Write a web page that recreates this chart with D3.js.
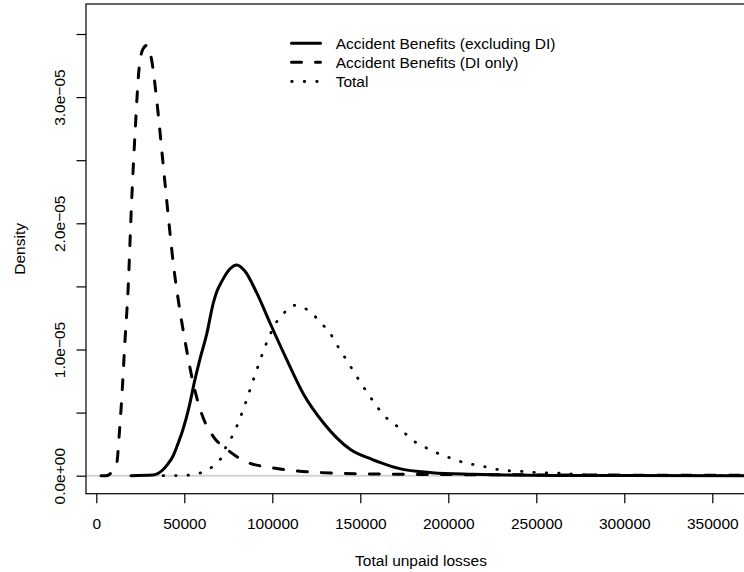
<!DOCTYPE html>
<html>
<head>
<meta charset="utf-8">
<script src="https://cdn.jsdelivr.net/npm/d3@7"></script>
<style>
  html, body { margin: 0; padding: 0; background: #fff; }
  svg { display: block; font-family: "Liberation Sans", Arial, Helvetica, sans-serif; }
</style>
</head>
<body>
<svg id="chart" width="744" height="572"></svg>
<script>
// ---- Data ----
const seriesNames = ["Accident Benefits (excluding DI)", "Accident Benefits (DI only)", "Total"];

const exclDI_x = [19700, 32000, 37700, 40500, 43400, 46300, 49100, 52800, 55700, 59000, 62700, 66500, 68500, 71300, 76000, 79800, 84500, 91100, 98700, 108200, 117600, 129000, 144200, 156600, 162300, 171800, 190700, 213500, 232200, 260000, 300000, 380000];
const exclDI_y = [0, 5e-8, 4.5e-7, 9e-7, 1.5e-6, 2.5e-6, 3.6e-6, 5.5e-6, 7.4e-6, 9.3e-6, 1.12e-5, 1.37e-5, 1.46e-5, 1.54e-5, 1.64e-5, 1.67e-5, 1.62e-5, 1.45e-5, 1.21e-5, 9.2e-6, 6.5e-6, 4.2e-6, 2.1e-6, 1.3e-6, 1.0e-6, 5.8e-7, 2.4e-7, 1.1e-7, 5e-8, 2e-8, 1e-8, 0];

const onlyDI_x = [2700, 5500, 11600, 13100, 14400, 16300, 18000, 20100, 22000, 24400, 26500, 28600, 31500, 34300, 38100, 41900, 43750, 46600, 50400, 55100, 59900, 66500, 74100, 85100, 98300, 111800, 127100, 153800, 200000, 260000, 320000, 380000];
const onlyDI_y = [0, 0, 1.0e-6, 3.4e-6, 6.0e-6, 1.07e-5, 1.46e-5, 2.18e-5, 2.71e-5, 3.24e-5, 3.38e-5, 3.41e-5, 3.29e-5, 2.98e-5, 2.45e-5, 1.92e-5, 1.68e-5, 1.39e-5, 1.07e-5, 7.3e-6, 4.9e-6, 3.1e-6, 2.1e-6, 1.1e-6, 6.7e-7, 4.0e-7, 2.5e-7, 1.4e-7, 9e-8, 6e-8, 4e-8, 3e-8];

const total_x = [38000, 54400, 60800, 66700, 71300, 73700, 77500, 82600, 87300, 91700, 96400, 102500, 106700, 111900, 118000, 123700, 128400, 132800, 136600, 143800, 151000, 158900, 163200, 168400, 173700, 178800, 184800, 190700, 197000, 203600, 210100, 216900, 223300, 230100, 237200, 244200, 251000, 257800, 264600, 272000, 286000, 320000, 380000];
const total_y = [0, 5e-8, 3.2e-7, 7.9e-7, 1.5e-6, 2.3e-6, 3.2e-6, 4.9e-6, 6.8e-6, 8.6e-6, 1.04e-5, 1.22e-5, 1.29e-5, 1.35e-5, 1.33e-5, 1.27e-5, 1.20e-5, 1.13e-5, 1.04e-5, 8.8e-6, 7.2e-6, 5.6e-6, 4.8e-6, 4.2e-6, 3.6e-6, 2.9e-6, 2.4e-6, 2.0e-6, 1.6e-6, 1.3e-6, 9.8e-7, 8.5e-7, 6.3e-7, 4.5e-7, 3.7e-7, 3.2e-7, 2.4e-7, 2.1e-7, 1.9e-7, 1.1e-7, 5e-8, 1e-8, 0];

const xTicks = [0, 50000, 100000, 150000, 200000, 250000, 300000, 350000];
const xTickLabels = ["0", "50000", "100000", "150000", "200000", "250000", "300000", "350000"];
const yTicks = [0, 5e-6, 1e-5, 1.5e-5, 2e-5, 2.5e-5, 3e-5, 3.5e-5];
const yTickLabels = ["0.0e+00", "", "1.0e\u221205", "", "2.0e\u221205", "", "3.0e\u221205", ""];

const xTitle = "Total unpaid losses";
const yTitle = "Density";

// ---- Layout ----
const plot = { left: 86, right: 756, top: 4, bottom: 493.7 };
const FS = 15.5;

const svg = d3.select("#chart");

const x = d3.scaleLinear().domain([-5852, 374830]).range([plot.left, plot.right]);
const y = d3.scaleLinear().domain([-1.426e-6, 3.7377e-5]).range([plot.bottom, plot.top]);

svg.append("defs").append("clipPath").attr("id", "clip")
  .append("rect").attr("x", plot.left).attr("y", plot.top)
  .attr("width", plot.right - plot.left).attr("height", plot.bottom - plot.top);

// zero line
svg.append("line")
  .attr("x1", plot.left).attr("x2", plot.right)
  .attr("y1", y(0)).attr("y2", y(0))
  .attr("stroke", "#d3d3d3").attr("stroke-width", 2);

const line = d3.line().x(d => x(d[0])).y(d => y(d[1])).curve(d3.curveMonotoneX);

const styles = [
  { dash: null, cap: "round" },
  { dash: "10 14", cap: "round" },
  { dash: "0.5 11.9", cap: "round" }
];
const series = [
  d3.zip(exclDI_x, exclDI_y),
  d3.zip(onlyDI_x, onlyDI_y),
  d3.zip(total_x, total_y)
];

const gCurves = svg.append("g").attr("clip-path", "url(#clip)");
series.forEach((s, i) => {
  gCurves.append("path")
    .datum(s)
    .attr("d", line)
    .attr("fill", "none")
    .attr("stroke", "#000")
    .attr("stroke-width", i === 2 ? 2.8 : 3)
    .attr("stroke-linecap", styles[i].cap)
    .attr("stroke-linejoin", "round")
    .attr("stroke-dasharray", styles[i].dash);
});

// box
svg.append("rect")
  .attr("x", plot.left).attr("y", plot.top)
  .attr("width", plot.right - plot.left).attr("height", plot.bottom - plot.top)
  .attr("fill", "none").attr("stroke", "#000").attr("stroke-width", 1.2);

// x axis
const xAxis = d3.axisBottom(x).tickValues(xTicks)
  .tickFormat((d, i) => xTickLabels[i]).tickSize(9.5).tickPadding(14.5);
const gx = svg.append("g").attr("transform", `translate(0,${plot.bottom})`).call(xAxis);
gx.select(".domain").remove();
gx.selectAll(".tick line").attr("stroke", "#000").attr("stroke-width", 1.2);
gx.selectAll(".tick text").attr("font-size", FS).attr("fill", "#000")
  .attr("font-family", "Liberation Sans, Arial, sans-serif");

// y axis
const yAxis = d3.axisLeft(y).tickValues(yTicks)
  .tickFormat((d, i) => yTickLabels[i]).tickSize(9.5);
const gy = svg.append("g").attr("transform", `translate(${plot.left},0)`).call(yAxis);
gy.select(".domain").remove();
gy.selectAll(".tick line").attr("stroke", "#000").attr("stroke-width", 1.2);
gy.selectAll(".tick text")
  .attr("x", null).attr("dy", null)
  .attr("text-anchor", "middle")
  .attr("transform", `translate(${65 - plot.left},0) rotate(-90)`)
  .attr("font-size", FS).attr("fill", "#000")
  .attr("font-family", "Liberation Sans, Arial, sans-serif");

// titles
svg.append("text")
  .attr("x", (plot.left + plot.right) / 2).attr("y", 566)
  .attr("text-anchor", "middle").attr("font-size", FS).text(xTitle);
svg.append("text")
  .attr("transform", `translate(25,${(plot.top + plot.bottom) / 2}) rotate(-90)`)
  .attr("text-anchor", "middle").attr("font-size", FS).text(yTitle);

// legend
const legendRows = [43.3, 62.3, 81.5];
const lg = svg.append("g");
seriesNames.forEach((name, i) => {
  const ly = legendRows[i];
  lg.append("line")
    .attr("x1", i === 2 ? 291.7 : 291.5).attr("x2", 320.5)
    .attr("y1", ly).attr("y2", ly)
    .attr("stroke", "#000")
    .attr("stroke-width", i === 2 ? 2.8 : 3)
    .attr("stroke-linecap", styles[i].cap)
    .attr("stroke-dasharray", i === 2 ? "0.5 12" : styles[i].dash);
  lg.append("text")
    .attr("x", 335.7).attr("y", ly).attr("dy", "0.35em")
    .attr("font-size", FS).text(name);
});
</script>
</body>
</html>
